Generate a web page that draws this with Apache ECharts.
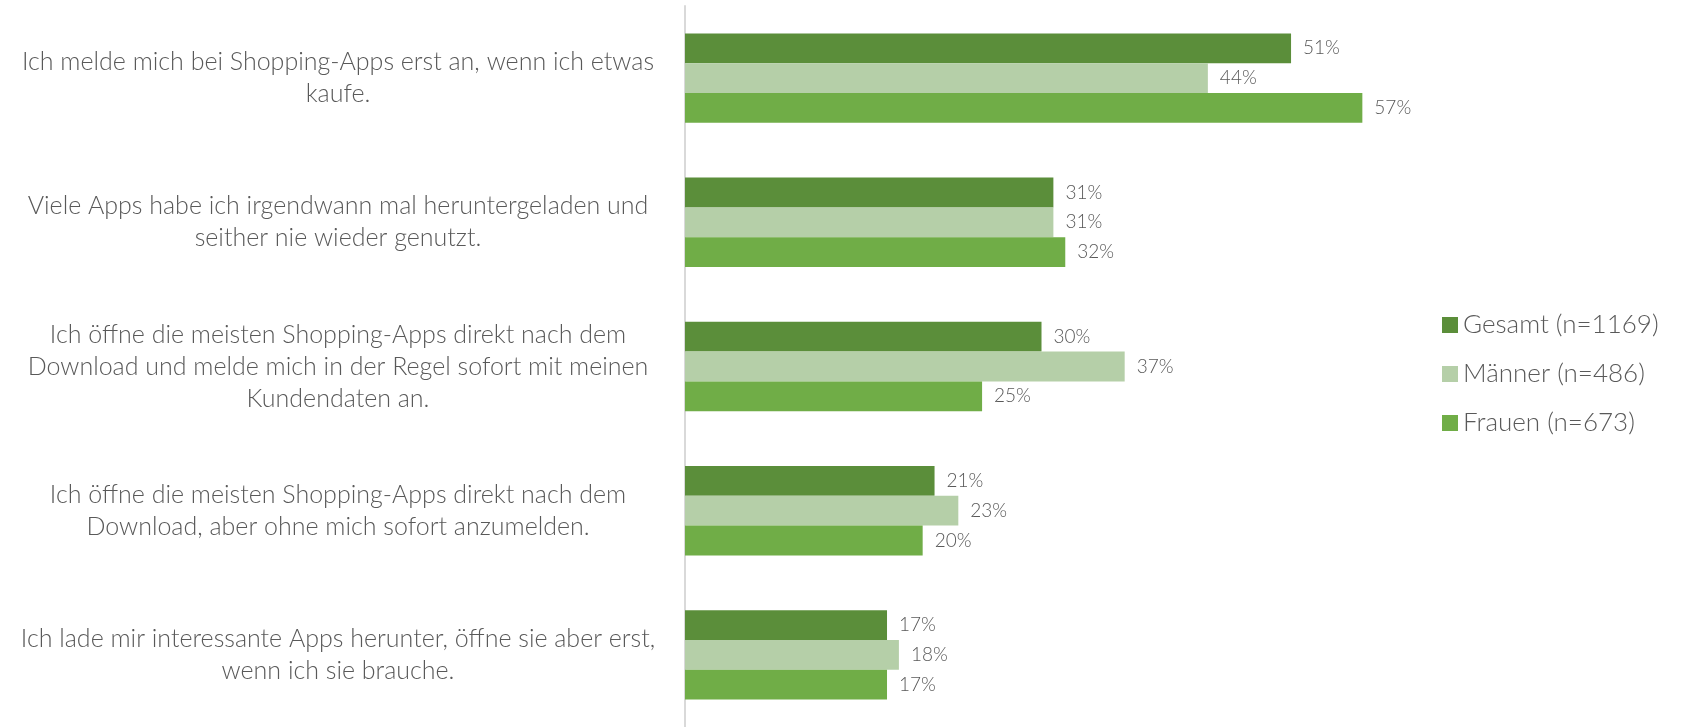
<!DOCTYPE html>
<html>
<head>
<meta charset="utf-8">
<script src="https://cdn.jsdelivr.net/npm/echarts@6/dist/echarts.min.js"></script>
<style>
  html, body { margin: 0; padding: 0; background: #fff; }
  #chart { width: 1681px; height: 727px; }
</style>
</head>
<body>
<div id="chart"></div>
<script>
// Aussagen (Kategorien), Zeilenumbrüche wie im Original
const categories = [
  'Ich melde mich bei Shopping-Apps erst an, wenn ich etwas\nkaufe.',
  'Viele Apps habe ich irgendwann mal heruntergeladen und\nseither nie wieder genutzt.',
  'Ich öffne die meisten Shopping-Apps direkt nach dem\nDownload und melde mich in der Regel sofort mit meinen\nKundendaten an.',
  'Ich öffne die meisten Shopping-Apps direkt nach dem\nDownload, aber ohne mich sofort anzumelden.',
  'Ich lade mir interessante Apps herunter, öffne sie aber erst,\nwenn ich sie brauche.'
]
const seriesNames = ['Gesamt (n=1169)', 'Männer (n=486)', 'Frauen (n=673)']
const gesamt = [51, 31, 30, 21, 17]
const maenner = [44, 31, 37, 23, 18]
const frauen = [57, 32, 25, 20, 17]

const colors = ['#5B8E3A', '#B5CFA8', '#70AD47']
const FONT = 'Lato'
const TEXT = '#595959'

const chart = echarts.init(document.getElementById('chart'))

function bar (name, data, color) {
  return {
    name: name,
    type: 'bar',
    data: data,
    barGap: '0%',
    barCategoryGap: '38%',
    itemStyle: { color: color },
    label: {
      show: true,
      position: 'right',
      distance: 12,
      formatter: '{c}%',
      color: TEXT,
      fontFamily: FONT,
      fontWeight: 300,
      fontSize: 19
    }
  }
}

chart.setOption({
  animation: false,
  grid: { left: 684, top: 6, width: 714, height: 725 },
  legend: {
    orient: 'vertical',
    left: 1437,
    top: 307,
    itemWidth: 16,
    itemHeight: 16,
    itemGap: 23,
    icon: 'rect',
    textStyle: { color: TEXT, fontFamily: FONT, fontWeight: 300, fontSize: 26, lineHeight: 26 },
    data: seriesNames
  },
  xAxis: {
    type: 'value',
    min: 0,
    max: 60,
    show: false
  },
  yAxis: {
    type: 'category',
    inverse: true,
    data: categories,
    axisTick: { show: false },
    axisLine: { lineStyle: { color: '#D9D9D9', width: 2 } },
    axisLabel: {
      margin: 12,
      formatter: function (v) {
        return v.split('\n').map(l => '{a|' + l + '}').join('\n')
      },
      rich: {
        a: {
          width: 670,
          align: 'center',
          color: TEXT,
          fontFamily: FONT,
          fontWeight: 300,
          fontSize: 25,
          lineHeight: 32
        }
      }
    }
  },
  series: [
    bar(seriesNames[0], gesamt, colors[0]),
    bar(seriesNames[1], maenner, colors[1]),
    bar(seriesNames[2], frauen, colors[2])
  ]
})
</script>
</body>
</html>
